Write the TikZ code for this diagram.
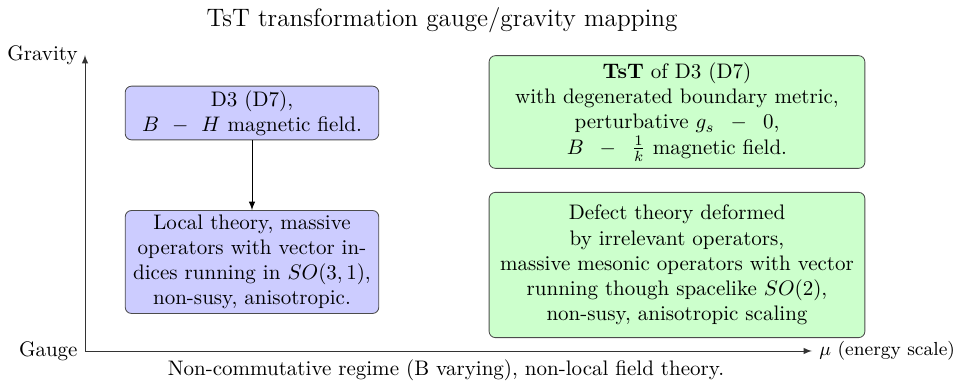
\documentclass[tikz,border=0pt]{standalone}
\usetikzlibrary{positioning}

\begin{document}
\begin{tikzpicture}[x=0.01673cm,y=-0.01673cm,
    bluebox/.style={draw=black!70,fill=blue!20,rounded corners=3pt,align=center,text width=4.1cm,inner sep=2pt},
    greenbox/.style={draw=black!70,fill=green!20,rounded corners=3pt,align=center,text width=6.05cm}]
  \useasboundingbox (0,0) rectangle (953,386);
  % axes
  \coordinate (origin) at (85,351);
  \coordinate (ytip) at (85,55);
  \coordinate (xtip) at (812,351);
  \draw[thin,-latex,black!80] (origin) -- (ytip);
  \draw[thin,-latex,black!80] (origin) -- (xtip);
  \node[left] (gravity) at (ytip) {Gravity};
  \node[left] (gauge) at (origin) {Gauge};
  \node[right,font=\small] (energy) at (xtip) {$\mu$ (energy scale)};
  \node (title) at (442,20) {\large TsT transformation gauge/gravity mapping};
  \node (regime) at (446,370) {Non-commutative regime (B varying), non-local field theory.};

  % gauge/gravity boxes
  \node[bluebox] (d3) at (252,113) {D3 (D7),\\ $B\;-\;H$ magnetic field.};
  \node[bluebox] (local) at (252,262) {Local theory, massive\\ operators with vector in-\\dices running in $SO(3,1)$,\\ non-susy, anisotropic.};
  \node[greenbox] (tst) at (677,112) {\textbf{TsT} of D3 (D7)\\ with degenerated boundary metric,\\ perturbative $g_s\ -\ 0$,\\ $B\ -\ \frac{1}{k}$ magnetic field.};
  \node[greenbox,inner ysep=6pt] (defect) at (677,265) {Defect theory deformed\\ by irrelevant operators,\\ massive mesonic operators with vector\\ running though spacelike $SO(2)$,\\ non-susy, anisotropic scaling};
  \draw[-latex] (d3) -- (local);
\end{tikzpicture}
\end{document}
